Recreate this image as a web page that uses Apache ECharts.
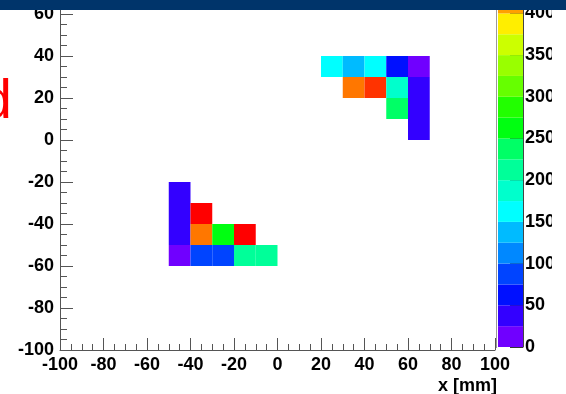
<!DOCTYPE html>
<html><head><meta charset="utf-8">
<script src="https://cdn.jsdelivr.net/npm/echarts@6/dist/echarts.min.js"></script>
<style>html,body{margin:0;padding:0;background:#fff}#c{width:566px;height:394px}</style>
</head><body><div id="c"></div>
<script>
// bin lower-left edges (mm) and bin contents
const binWidth = 10;
const cellX = [-50,-50,-50,-50,-40,-40,-40,-30,-30,-20,-20,-10, 20,30,40,50,60,30,40,50,60,50,60,60];
const cellY = [-30,-40,-50,-60,-40,-50,-60,-50,-60,-50,-60,-60, 30,30,30,30,30,20,20,20,20,10,10,0];
const cellValue = [40,38,42,12,490,435,88,262,85,488,215,218, 162,138,160,62,14,437,462,188,40,238,42,38];
// colour palette (contour levels)
const paletteLevels = [0,25,50,75,100,125,150,175,200,225,250,275,300,325,350,375,400,425,450,475];
const paletteColors = ['#7000ff','#3300ff','#0010ff','#0044ff','#0088ff','#00bbff','#00ffff','#00ffcc','#00ff99','#00ff66',
  '#00ff11','#22ff00','#66ff00','#99ff00','#ccff00','#ffee00','#ffa000','#ff7700','#ff3300','#ff0000'];
const levelStep = 25;
const colorbarMax = 500;
const xTitle = 'x [mm]';
const titleFragment = 'd';

const FONT = '"Liberation Sans", Arial, Helvetica, sans-serif';
const cells = cellX.map((x, i) => [x, cellY[i], cellValue[i]]);
const bands = paletteLevels.map((l, i) => [l, i]);

const chart = echarts.init(document.getElementById('c'), null, {renderer: 'canvas'});
const lbl = {color: '#000', fontFamily: FONT, fontWeight: 'bold', fontSize: 18};
chart.setOption({
  animation: false,
  backgroundColor: '#fff',
  grid: [
    {left: 60, width: 435, top: -70, bottom: 44, outerBoundsMode: 'none', containLabel: false},
    {left: 498, width: 25, top: -70, bottom: 47, outerBoundsMode: 'none', containLabel: false}
  ],
  xAxis: [
    {gridIndex: 0, type: 'value', min: -100, max: 100, interval: 20,
      axisLine: {show: true, onZero: false, lineStyle: {color: '#555', width: 1}},
      axisTick: {show: true, inside: true, length: 12, lineStyle: {color: '#555'}},
      minorTick: {show: true, splitNumber: 4, length: 6, lineStyle: {color: '#555'}},
      splitLine: {show: false},
      axisLabel: Object.assign({margin: 6}, lbl)},
    {gridIndex: 1, type: 'value', min: 0, max: 1, show: false}
  ],
  yAxis: [
    {gridIndex: 0, type: 'value', min: -100, max: 100, interval: 20,
      axisLine: {show: true, onZero: false, lineStyle: {color: '#555', width: 1}},
      axisTick: {show: true, inside: true, length: 13, lineStyle: {color: '#555'}},
      minorTick: {show: true, splitNumber: 4, length: 7, lineStyle: {color: '#555'}},
      splitLine: {show: false},
      axisLabel: Object.assign({margin: 6}, lbl)},
    {gridIndex: 1, type: 'value', min: 0, max: colorbarMax, interval: 50, position: 'right',
      axisLine: {show: true, onZero: false, lineStyle: {color: '#444', width: 1}},
      axisTick: {show: true, inside: true, length: 13, lineStyle: {color: '#333'}},
      splitLine: {show: false},
      axisLabel: Object.assign({margin: 2, padding: [4, 0, 0, 0]}, lbl)}
  ],
  visualMap: {
    type: 'piecewise', show: false, dimension: 2, seriesIndex: 0,
    pieces: paletteLevels.map((l, i) => ({gte: l, lt: l + levelStep, color: paletteColors[i]}))
  },
  series: [
    {type: 'custom', xAxisIndex: 0, yAxisIndex: 0, data: cells,
      renderItem: function (params, api) {
        const x = api.value(0), y = api.value(1);
        const p0 = api.coord([x, y + binWidth]);
        const p1 = api.coord([x + binWidth, y]);
        return {type: 'rect', shape: {x: p0[0], y: p0[1], width: p1[0] - p0[0], height: p1[1] - p0[1]},
          style: {fill: api.visual('color')}};
      }},
    {type: 'custom', xAxisIndex: 1, yAxisIndex: 1, data: bands, silent: true,
      renderItem: function (params, api) {
        const l = api.value(0), idx = api.value(1);
        const p0 = api.coord([0, l + levelStep]);
        const p1 = api.coord([1, l]);
        return {type: 'rect', shape: {x: p0[0], y: p0[1], width: p1[0] - p0[0], height: p1[1] - p0[1]},
          style: {fill: paletteColors[idx]}};
      }}
  ],
  graphic: [
    {type: 'line', shape: {x1: 496.5, y1: 0, x2: 496.5, y2: 348}, style: {stroke: '#999', lineWidth: 1}, z: 50},
    {type: 'rect', shape: {x: 552, y: 0, width: 14, height: 394}, style: {fill: '#fff'}, z: 90},
    {type: 'rect', shape: {x: 0, y: 0, width: 566, height: 10}, style: {fill: '#00346a'}, z: 100},
    {type: 'text', x: 497, y: 386, z: 60, style: {text: xTitle, textAlign: 'right', textVerticalAlign: 'middle',
      fill: '#000', font: 'bold 18px ' + FONT}},
    {type: 'text', x: 12, y: 131, z: 60, style: {text: titleFragment, textAlign: 'right', textVerticalAlign: 'bottom',
      fill: '#ff0000', font: '56px ' + FONT}}
  ]
});
</script></body></html>
